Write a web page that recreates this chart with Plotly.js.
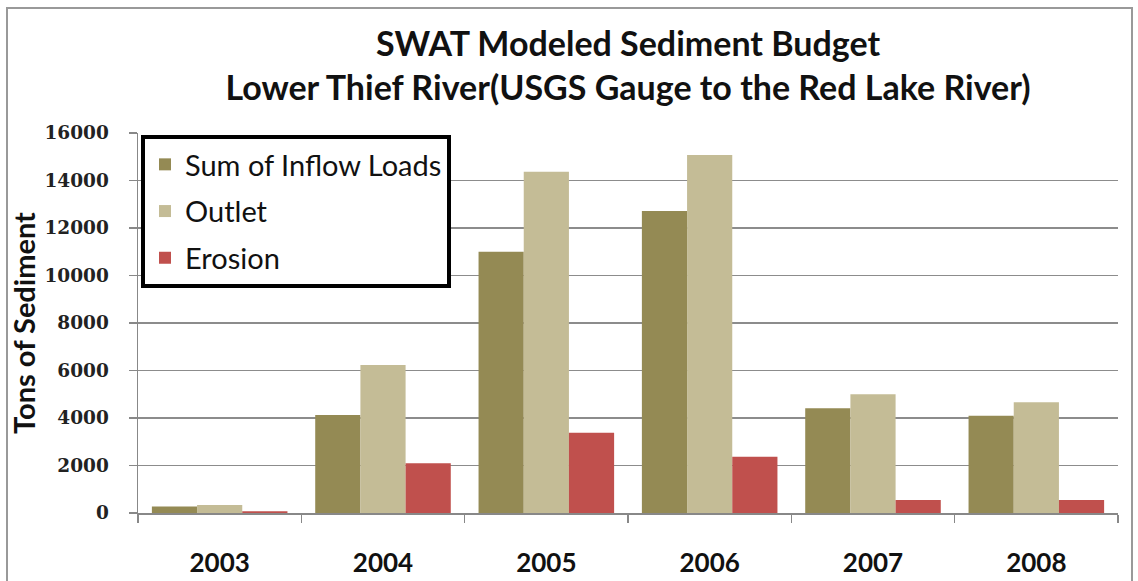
<!DOCTYPE html>
<html>
<head>
<meta charset="utf-8">
<script src="https://cdn.plot.ly/plotly-3.0.1.min.js"></script>
<style>html,body{margin:0;padding:0;background:#fff;}#chart{width:1138px;height:581px;}</style>
</head>
<body>
<div id="chart"></div>
<script>
const years = ['2003', '2004', '2005', '2006', '2007', '2008'];
const inflowLoads = [270, 4130, 11000, 12720, 4410, 4100];
const outlet = [340, 6230, 14370, 15070, 5000, 4660];
const erosion = [70, 2090, 3380, 2370, 550, 550];
const yTicks = [0, 2000, 4000, 6000, 8000, 10000, 12000, 14000, 16000];

const traces = [
  {type: 'bar', name: 'Sum of Inflow Loads', x: years, y: inflowLoads, marker: {color: '#948A54'}, legendgroup: 'a'},
  {type: 'bar', name: 'Outlet', x: years, y: outlet, marker: {color: '#C4BC96'}, legendgroup: 'b'},
  {type: 'bar', name: 'Erosion', x: years, y: erosion, marker: {color: '#C0504D'}, legendgroup: 'c'}
];

const L = 138, R = 20, T = 133, B = 68;
const W = 1138 - L - R, H = 581 - T - B;

const layout = {
  width: 1138, height: 581,
  margin: {l: L, r: R, t: T, b: B},
  paper_bgcolor: '#fff', plot_bgcolor: '#fff',
  barmode: 'group', bargap: 0.17, bargroupgap: 0,
  title: {
    text: 'SWAT Modeled Sediment Budget<br>Lower Thief River(USGS Gauge to the Red Lake River)',
    font: {family: 'Lato', size: 34, color: '#111', weight: 'bold'},
    x: 0.5, xref: 'paper', y: 1, yref: 'paper', yanchor: 'bottom', pad: {b: 77}
  },
  showlegend: true,
  legend: {
    x: 3 / W, y: 1 - 2 / H, xanchor: 'left', yanchor: 'top',
    bgcolor: '#fff', bordercolor: '#000', borderwidth: 4,
    font: {family: 'Lato', size: 29, color: '#111'},
    traceorder: 'grouped', tracegroupgap: 6
  },
  xaxis: {
    type: 'category', tickson: 'boundaries', ticks: 'outside', ticklen: 8, tickcolor: '#888', tickwidth: 1.5,
    showline: true, linecolor: '#888', linewidth: 1.5, showgrid: false,
    tickfont: {family: 'Lato', size: 26, color: '#111', weight: 'bold'},
    ticklabelstandoff: 26
  },
  yaxis: {
    range: [0, 16000], tickvals: yTicks, ticktext: yTicks.map(String),
    ticks: 'outside', ticklen: 8, tickcolor: '#888', tickwidth: 1.5,
    showline: true, linecolor: '#888', linewidth: 1.5,
    showgrid: true, gridcolor: '#8c8c8c', gridwidth: 1.5, zeroline: false,
    tickfont: {family: 'DejaVu Serif', size: 18.5, color: '#222', weight: 'bold'},
    ticklabelstandoff: 16,
    title: {text: 'Tons of Sediment', font: {family: 'Lato', size: 29, color: '#111', weight: 'bold'}, standoff: 0}
  },
  shapes: [{
    type: 'rect', xref: 'paper', yref: 'paper',
    x0: (7 - L) / W, x1: (1132 - L) / W, y0: -(590 - T - H) / H, y1: 1 + (T - 8) / H,
    line: {color: '#999', width: 2}, fillcolor: 'rgba(0,0,0,0)', layer: 'below'
  }]
};

Plotly.newPlot('chart', traces, layout, {displayModeBar: false, staticPlot: true});
</script>
</body>
</html>
